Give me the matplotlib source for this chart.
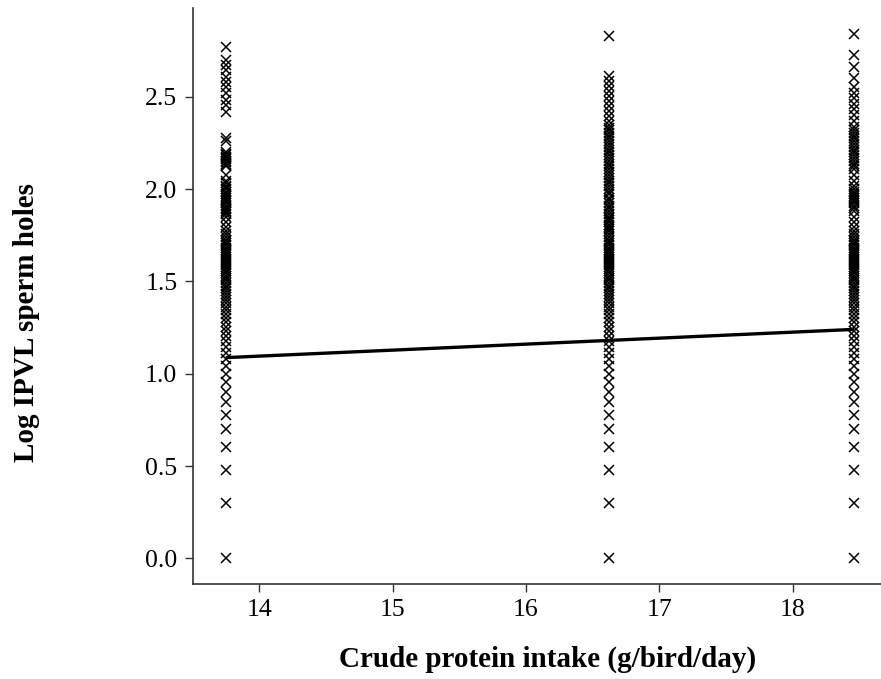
import numpy as np
import matplotlib
matplotlib.use("Agg")
import matplotlib.pyplot as plt

# ---- data ----
protein_levels = [13.75, 16.62, 18.46]   # crude protein intake, g/bird/day

# IPVL sperm-hole counts per group (plotted as log10)
holes_13_75 = [1, 2, 3, 4, 5, 6, 7, 8, 9, 10, 11, 12, 13, 14, 15, 16, 17, 18, 19, 20,
               21, 22, 23, 24, 25, 26, 27, 28, 29, 30, 31, 32, 33, 34, 35, 36, 37, 38, 39, 40,
               41, 42, 43, 44, 45, 46, 47, 48, 50, 51, 52, 53, 55, 57, 59, 62, 66, 71, 73, 75,
               76, 78, 79, 81, 84, 86, 87, 90, 92, 94, 97, 100, 102, 104, 108, 111, 119,
               133, 135, 137, 140, 142, 145, 147, 150, 152, 155, 158,
               182, 190, 260, 285, 305, 330, 355, 380, 405, 440, 470, 500, 590]
holes_16_62 = [1, 2, 3, 4, 5, 6, 7, 8, 9, 10, 11, 12, 13, 14, 15, 16, 17, 18, 19, 20,
               21, 22, 23, 24, 25, 26, 27, 28, 29, 30, 31, 32, 33, 34, 35, 36, 37, 38, 39, 40,
               41, 42, 43, 44, 45, 46, 47, 48, 50, 51, 52, 53, 55, 57, 59, 61, 62, 64, 66, 68,
               70, 71, 73, 76, 79, 81, 84, 87, 90, 94, 97, 100, 104, 108, 111, 115, 119, 124,
               128, 133, 137, 142, 147, 152, 158, 163, 169, 175, 181, 188, 194, 201, 208,
               215, 223, 233, 248, 264, 281, 299, 318, 338, 360, 383, 408, 676]
holes_18_46 = [1, 2, 3, 4, 5, 6, 7, 8, 9, 10, 11, 12, 13, 14, 15, 16, 17, 18, 19, 20,
               21, 22, 23, 24, 25, 26, 27, 28, 29, 30, 31, 32, 33, 34, 35, 36, 37, 38, 39, 40,
               41, 42, 43, 44, 45, 46, 47, 48, 50, 51, 52, 53, 55, 57, 59, 62, 66, 71, 76,
               79, 81, 84, 86, 87, 90, 92, 94, 97, 100, 104, 111, 119, 128, 133, 137, 142,
               147, 152, 158, 163, 169, 175, 181, 188, 194, 201, 208, 218, 235, 252, 270,
               290, 311, 333, 355, 398, 460, 532, 689]
hole_groups = [holes_13_75, holes_16_62, holes_18_46]

# fitted regression line (end points)
fit_x = [13.75, 18.46]
fit_y = [1.087, 1.240]

x_ticks = [14, 15, 16, 17, 18]
y_ticks = [0.0, 0.5, 1.0, 1.5, 2.0, 2.5]

x_label = "Crude protein intake (g/bird/day)"
y_label = "Log IPVL sperm holes"

# ---- figure ----
plt.rcParams['font.family'] = ['Liberation Serif', 'DejaVu Serif']

W, H = 881, 679
fig = plt.figure(figsize=(W / 100, H / 100), dpi=100)
ax = fig.add_axes([193.3 / W, 1 - 584 / H, 1 - 193.3 / W, (584 - 8.3) / H])

for xv, counts in zip(protein_levels, hole_groups):
    yv = np.log10(np.asarray(counts, dtype=float))
    ax.plot(np.full(len(yv), xv), yv, linestyle='none', marker='x',
            color='black', markersize=6.5, markeredgewidth=1.1)

ax.plot(fit_x, fit_y, color='black', linewidth=2.4, solid_capstyle='butt')

ax.set_xlim(13.507, 18.66)
ax.set_ylim(-0.139, 2.979)
ax.set_xticks(x_ticks)
ax.set_xticklabels([str(t) for t in x_ticks])
ax.set_yticks(y_ticks)
ax.set_yticklabels([f"{t:.1f}" for t in y_ticks])

for s in ['top', 'right']:
    ax.spines[s].set_visible(False)
for s in ['left', 'bottom']:
    ax.spines[s].set_color('#333333')
    ax.spines[s].set_linewidth(1.2)

ax.tick_params(axis='both', direction='out', length=5.5, width=1.0,
               color='#333333', labelsize=18.5, labelcolor='black')
ax.tick_params(axis='x', pad=5)
ax.tick_params(axis='y', pad=6)

fig.text(547.5 / W, 1 - 667 / H, x_label, ha='center', va='baseline',
         fontsize=21, fontweight='bold')
fig.text(27 / W, 1 - 322 / H, y_label, ha='center', va='center',
         rotation=90, fontsize=21, fontweight='bold')

fig.savefig("out.png", dpi=100)
